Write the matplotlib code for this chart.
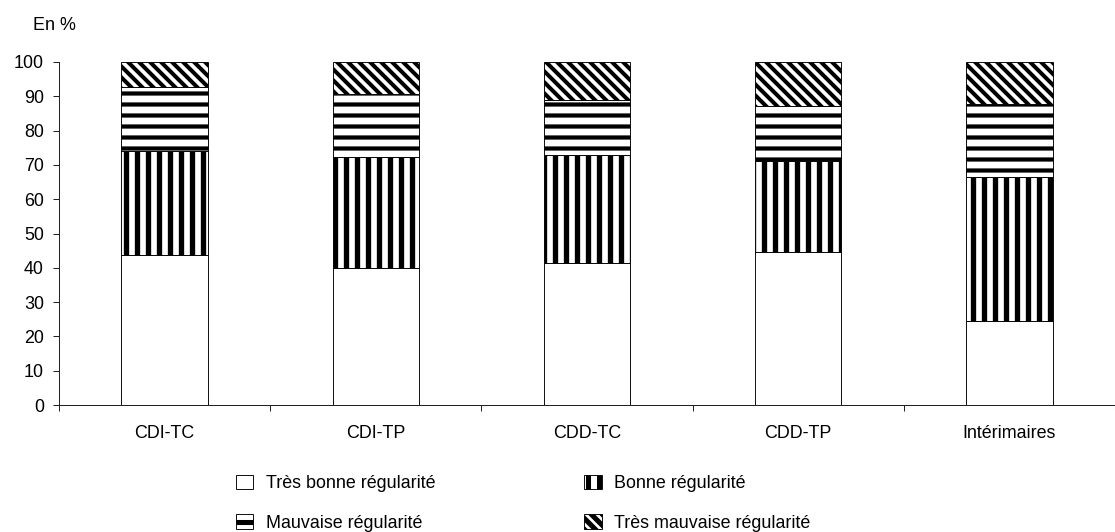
import matplotlib
matplotlib.use("Agg")
import matplotlib.pyplot as plt
from matplotlib.patches import Patch
import numpy as np

categories = ["CDI-TC", "CDI-TP", "CDD-TC", "CDD-TP", "Intérimaires"]
series_names = ["Très bonne régularité", "Bonne régularité",
                "Mauvaise régularité", "Très mauvaise régularité"]
tres_bonne = [43.7, 39.9, 41.5, 44.5, 24.6]
bonne = [30.4, 32.3, 31.4, 26.5, 42.0]
mauvaise = [18.5, 18.4, 16.0, 16.2, 21.2]
tres_mauvaise = [7.4, 9.4, 11.1, 12.8, 12.2]
y_ticks = [0, 10, 20, 30, 40, 50, 60, 70, 80, 90, 100]

DPI = 66
FS = 19.5
plt.rcParams["font.family"] = ["Liberation Sans", "DejaVu Sans"]
plt.rcParams["hatch.linewidth"] = 5.5
plt.rcParams["hatch.color"] = "black"

fig = plt.figure(figsize=(1115 / DPI, 532 / DPI), dpi=DPI)
ax = fig.add_axes([59 / 1115, 127 / 532, 1056 / 1115, 343 / 532])

x = np.arange(len(categories))
width = 0.41
hatches = [None, "|", "-", "\\\\"]
hatch_lw = [1.0, 5.8, 4.6, 4.4]
values = [tres_bonne, bonne, mauvaise, tres_mauvaise]

bottom = np.zeros(len(categories))
for vals, name, h, hlw in zip(values, series_names, hatches, hatch_lw):
    bars = ax.bar(x, vals, width, bottom=bottom, color="white",
                  edgecolor="black", linewidth=1.0, hatch=h, label=name)
    for b in bars:
        if hasattr(b, "set_hatch_linewidth"):
            b.set_hatch_linewidth(hlw)
    bottom += np.array(vals)

ax.set_xlim(-0.5, 4.459)
ax.set_ylim(0, 100)
ax.set_yticks(y_ticks)
ax.set_yticklabels([str(v) for v in y_ticks], fontsize=FS)

# category labels centred, tick marks between categories
ax.set_xticks(np.arange(-0.5, 4.6, 1.0))
ax.set_xticklabels([])
ax.set_xticks(x, minor=True)
ax.set_xticklabels(categories, minor=True, fontsize=FS)
ax.tick_params(axis="x", which="minor", length=0, pad=21.5)
ax.tick_params(axis="x", which="major", direction="out", length=6, width=1.1, color="#222222")
ax.tick_params(axis="y", direction="out", length=6.5, width=1.1, color="#222222", pad=10)

for s in ["top", "right"]:
    ax.spines[s].set_visible(False)
for s in ["left", "bottom"]:
    ax.spines[s].set_color("#222222")
    ax.spines[s].set_linewidth(1.1)

fig.text(33 / 1115, 1 - 25 / 532, "En %", fontsize=FS, va="center", ha="left")

handles = []
for name, h, hlw in zip(series_names, hatches, hatch_lw):
    p = Patch(facecolor="white", edgecolor="black", linewidth=1.0, hatch=h, label=name)
    if hasattr(p, "set_hatch_linewidth"):
        p.set_hatch_linewidth(hlw)
    handles.append(p)

# legend reads row by row: ncol=2 fills column-wise, so interleave
order = [0, 2, 1, 3]
fig.legend(handles=[handles[i] for i in order], loc="upper left",
           bbox_to_anchor=(232 / 1115, 1 - 471 / 532),
           ncol=2, frameon=False, fontsize=FS, handlelength=1.0, handleheight=0.9,
           handletextpad=0.7, columnspacing=8.3, labelspacing=1.22,
           borderpad=0.2, borderaxespad=0)

fig.savefig("out.png", dpi=DPI)
